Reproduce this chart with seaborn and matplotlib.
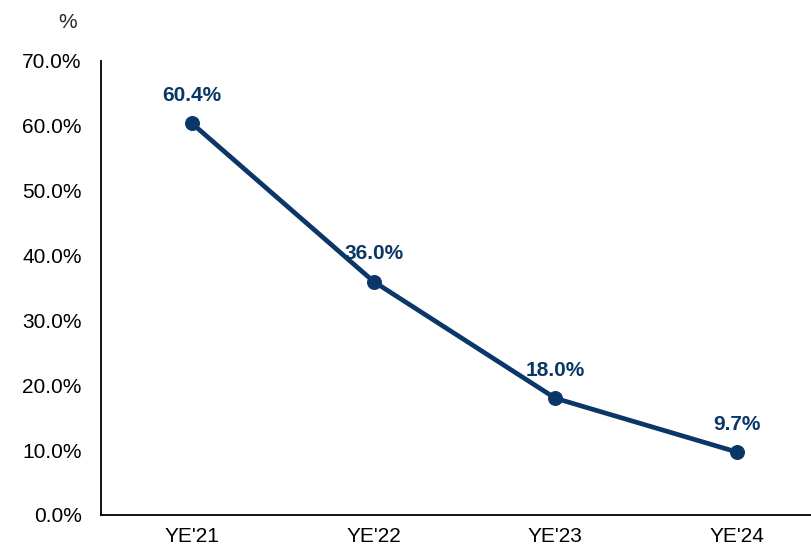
import pandas as pd
import matplotlib
matplotlib.use("Agg")
import matplotlib.pyplot as plt
import seaborn as sns

periods = ["YE'21", "YE'22", "YE'23", "YE'24"]
values = [60.4, 36.0, 18.0, 9.7]
y_ticks = [0, 10, 20, 30, 40, 50, 60, 70]

navy = "#0A3767"


def main():
    sns.set_style("white")
    plt.rcParams["font.family"] = ["Liberation Sans", "DejaVu Sans"]

    df = pd.DataFrame({"period": periods, "value": values})

    fig = plt.figure(figsize=(8.12, 5.47), dpi=100)
    ax = fig.add_axes([101 / 812, 32 / 547, 727 / 812, 454 / 547])

    sns.lineplot(data=df, x="period", y="value", ax=ax, color=navy,
                 linewidth=3.4, marker="o", markersize=10,
                 markeredgecolor=navy, sort=False)

    for i, v in enumerate(values):
        ax.annotate(f"{v:.1f}%", (i, v), xytext=(0, 20), textcoords="offset points",
                    ha="center", va="center", fontsize=15, fontweight="bold", color=navy)

    ax.set_xlim(-0.5, 3.5)
    ax.set_ylim(0, 70)
    ax.set_yticks(y_ticks)
    ax.set_yticklabels([f"{t:.1f}%" for t in y_ticks], fontsize=15, color="black")
    ax.tick_params(axis="x", labelsize=15, labelcolor="black", length=0, pad=9)
    ax.tick_params(axis="y", length=0, pad=14)
    ax.set_xlabel("")
    ax.set_ylabel("")
    for s in ["top", "right"]:
        ax.spines[s].set_visible(False)
    for s in ["left", "bottom"]:
        ax.spines[s].set_color("black")
        ax.spines[s].set_linewidth(1.3)
    ax.grid(False)

    fig.text(68 / 812, 1 - 22 / 547, "%", ha="center", va="center", fontsize=15)

    fig.savefig("out.png", dpi=100)
    plt.close(fig)


if __name__ == "__main__":
    main()
